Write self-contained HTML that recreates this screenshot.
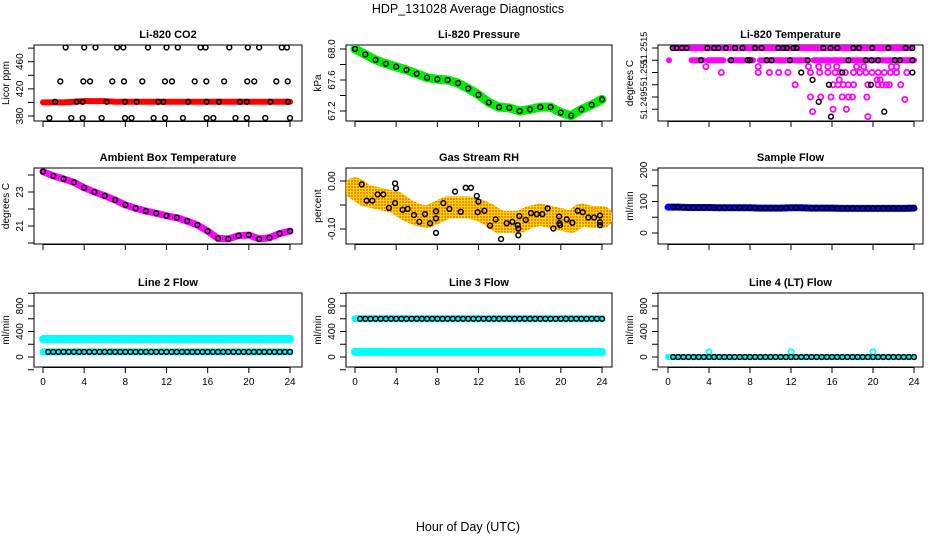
<!DOCTYPE html>
<html><head><meta charset="utf-8"><style>
html,body{margin:0;padding:0;background:#fff}
svg{display:block;font-family:"Liberation Sans",Arial,sans-serif}
</style></head><body>
<svg id="c" width="936" height="540" viewBox="0 0 936 540" xmlns="http://www.w3.org/2000/svg">
<defs><pattern id="rhpat" width="3" height="3" patternUnits="userSpaceOnUse"><rect width="3" height="3" fill="#ffd400"/><rect width="2" height="2" fill="#f08a00"/></pattern></defs>
<text x="468" y="13" text-anchor="middle" font-size="12.5">HDP_131028  Average Diagnostics</text>
<text x="468" y="531" text-anchor="middle" font-size="12.5">Hour of Day (UTC)</text>
</svg>
<script>
const hours=[0,1,2,3,4,5,6,7,8,9,10,11,12,13,14,15,16,17,18,19,20,21,22,23,24];
const xTicks=[0,4,8,12,16,20,24];
// CO2
const co2Red=[400,400,400,401,402,402,402,401,401,401,401,401,401,401,401,401,401,401,401,401,401,401,401,401,401];
const co2TopT=[2.2,4.0,5.1,7.2,7.8,10.2,12.0,13.1,15.3,15.8,18.1,19.9,21.0,23.2,23.7];
const co2MidT=[1.68,3.92,4.57,6.73,7.87,9.65,11.85,12.53,14.74,15.87,17.6,19.85,20.53,22.67,23.78];
const co2LowT=[1.17,3.27,3.85,6.19,7.97,9.1,11.2,11.7,14.1,15.9,17.1,19.14,19.8,22.1,23.8];
const co2BotT=[0.62,2.75,3.85,5.7,7.97,8.6,10.75,11.85,13.6,15.9,16.55,18.7,19.8,21.6,24];
const co2Levels=[481,431,401,377];
// Pressure
const pressure=[68.0,67.93,67.86,67.81,67.77,67.73,67.68,67.63,67.61,67.60,67.56,67.49,67.41,67.31,67.25,67.24,67.2,67.22,67.25,67.25,67.18,67.14,67.22,67.28,67.35];
// Li-820 temperature
const tempBandSegs=[[0.1,0.1],[2.3,3.45],[3.9,5.4],[6.05,8.3],[8.98,13.5],[14.2,24]];
const tempMagT=[5.2,8.8,9.9,10.8,11.7,13.9,14.8,15.6,16.3,16.8,17.3,18.1,18.7,19.3,19.9,20.5,21.1,21.7,22.3,23.3,3.7,8.8,13.7,14.7,15.6,16.45,18.4,19.1,21.8,22.3,16.7,20.4,20.7,12.4,16.1,16.6,17.1,17.6,18.1,19.5,20.5,20.9,21.3,21.6,22.7,13.9,14.9,15.9,17.0,17.6,18.0,19.4,23.1,16.1,17.4,14.1,19.5];
const tempMagV=[51.251,51.251,51.251,51.251,51.251,51.251,51.251,51.251,51.251,51.251,51.251,51.251,51.251,51.251,51.251,51.251,51.251,51.251,51.251,51.251,51.25112,51.25112,51.25112,51.25112,51.25112,51.25112,51.25112,51.25112,51.25112,51.25112,51.25085,51.25085,51.25085,51.25075,51.25075,51.25075,51.25075,51.25075,51.25075,51.25075,51.25075,51.25075,51.25075,51.25075,51.25075,51.2505,51.2505,51.2505,51.2505,51.2505,51.2505,51.2505,51.25045,51.25025,51.25025,51.2502,51.2501];
const tempBlkT=[0.46,0.85,1.34,1.82,3.84,4.49,4.91,5.66,6.54,7.28,8.49,9.14,10.76,11.25,11.58,12.23,12.55,15.15,15.87,16.52,18.08,18.63,19.93,21.5,23.19,23.84,3.22,6.15,7.77,8.0,9.63,10.11,11.9,13.63,17.6,19.3,19.87,20.5,22.14,22.63,23.84,13.0,17.0,23.84,14.1,15.7,19.8,14.7,21.1,15.9];
const tempBlkV=[51.2515,51.2515,51.2515,51.2515,51.2515,51.2515,51.2515,51.2515,51.2515,51.2515,51.2515,51.2515,51.2515,51.2515,51.2515,51.2515,51.2515,51.2515,51.2515,51.2515,51.2515,51.2515,51.2515,51.2515,51.2515,51.2515,51.25125,51.25125,51.25125,51.25125,51.25125,51.25125,51.25125,51.25125,51.25125,51.25125,51.25125,51.25125,51.25125,51.25125,51.25125,51.251,51.251,51.251,51.25085,51.25075,51.25075,51.2504,51.2502,51.2501];
const tempTickLabels=["51.2515","51.251","51.2495"];
// Ambient
const ambient=[24.2,23.95,23.77,23.57,23.25,23.0,22.78,22.53,22.24,22.04,21.88,21.75,21.6,21.49,21.29,21.06,20.7,20.27,20.24,20.43,20.47,20.24,20.31,20.56,20.7];
// Gas RH
const rhBand=[-0.015,-0.03,-0.035,-0.04,-0.045,-0.06,-0.07,-0.075,-0.065,-0.055,-0.055,-0.055,-0.06,-0.07,-0.085,-0.085,-0.085,-0.075,-0.07,-0.075,-0.08,-0.085,-0.07,-0.075,-0.075];
const rhPtT=[0.65,1.13,1.68,2.2,2.75,3.3,3.89,3.98,3.89,4.63,5.12,5.73,6.25,6.8,7.29,7.87,7.87,7.87,8.58,9.17,9.72,10.27,10.76,11.27,11.83,11.99,11.92,12.57,13.12,13.67,14.19,14.74,15.29,15.81,15.87,15.87,15.97,16.59,17.1,17.66,18.2,18.72,19.27,19.83,19.86,19.92,20.57,21.12,21.64,22.13,22.67,23.23,23.81,23.81,23.81];
const rhPtV=[-0.007,-0.041,-0.041,-0.028,-0.028,-0.056,-0.005,-0.015,-0.046,-0.06,-0.058,-0.071,-0.085,-0.069,-0.088,-0.063,-0.078,-0.108,-0.046,-0.058,-0.022,-0.064,-0.014,-0.014,-0.031,-0.043,-0.065,-0.062,-0.093,-0.08,-0.121,-0.088,-0.085,-0.092,-0.099,-0.113,-0.073,-0.081,-0.067,-0.069,-0.069,-0.057,-0.099,-0.074,-0.088,-0.092,-0.08,-0.087,-0.062,-0.065,-0.076,-0.076,-0.072,-0.086,-0.092];
// Flows
const sampleFlow=[82,82,81,81,81,80,80,80,80,79,79,79,80,80,79,79,79,78,78,78,78,78,78,78,79];
const line2High=[282,282,282,282,282,282,282,282,282,282,282,282,282,282,282,282,282,282,282,282,282,282,282,282,282];
const line2Low=[80,80,80,80,80,80,80,80,80,80,80,80,80,80,80,80,80,80,80,80,80,80,80,80,80];
const line3High=[600,600,600,600,600,600,600,600,600,600,600,600,600,600,600,600,600,600,600,600,600,600,600,600,600];
const line3Low=[80,80,80,80,80,80,80,80,80,80,80,80,80,80,80,80,80,80,80,80,80,80,80,80,80];
const line4=[0,0,0,0,0,0,0,0,0,0,0,0,0,0,0,0,0,0,0,0,0,0,0,0,0];
const line4SpikeT=[4,12,20];
const line4SpikeV=[80,80,80];

const svg=document.getElementById('c');
const NS="http://www.w3.org/2000/svg";
function mk(tag,attrs,parent){const e=document.createElementNS(NS,tag);for(const k in attrs)e.setAttribute(k,attrs[k]);(parent||svg).appendChild(e);return e;}
const cols=[{L:34,R:302,x0:43,x1:290},{L:346,R:612,x0:355,x1:602},{L:658,R:923,x0:668,x1:914}];
const rows=[{T:45,B:121},{T:168,B:244},{T:293,B:367}];

function panel(ci,ri,o){
  const c=cols[ci],r=rows[ri];
  const g=mk('g',{});
  
  
  const xs=h=>c.x0+(h/24)*(c.x1-c.x0);
  const ys=v=>o.p0+(v-o.v0)*(o.p1-o.p0)/(o.v1-o.v0);
  const t=mk('text',{x:(c.L+c.R)/2,y:r.T-7,'text-anchor':'middle','font-size':11,'font-weight':'bold'},g);
  t.textContent=o.title;
  
  
  const box=mk('rect',{x:c.L,y:r.T,width:c.R-c.L,height:r.B-r.T,fill:'none',stroke:'#000','stroke-width':1},g);
  
  
  xTicks.forEach(h=>{
    mk('line',{x1:xs(h),x2:xs(h),y1:r.B,y2:r.B+6,stroke:'#000'},g);
    if(ri===2){const tl=mk('text',{x:xs(h),y:r.B+18,'text-anchor':'middle','font-size':10},g);tl.textContent=h;
      
      }
  });
  mk('line',{x1:xs(0),x2:xs(24),y1:r.B+0.5,y2:r.B+0.5,stroke:'#000'},g);
  o.yt.forEach(v=>{const y=ys(v);mk('line',{x1:c.L-6,x2:c.L,y1:y,y2:y,stroke:'#000'},g);});
  o.yl.forEach((v,i)=>{const y=ys(v);const lx=c.L-11;
    const tl=mk('text',{x:lx,y:y,'text-anchor':'middle','font-size':o.yfs||10,transform:`rotate(-90 ${lx} ${y})`},g);
    tl.textContent=o.ylt?o.ylt[i]:v;
    
    });
  const yt=mk('text',{x:c.L-25,y:(r.T+r.B)/2,'text-anchor':'middle','font-size':10,transform:`rotate(-90 ${c.L-25} ${(r.T+r.B)/2})`},g);
  yt.textContent=o.ytitle;
  
  
  const clip='clip'+ci+ri;
  const cp=mk('clipPath',{id:clip},g);mk('rect',{x:c.L,y:r.T,width:c.R-c.L,height:r.B-r.T},cp);
  const pg=mk('g',{'clip-path':`url(#${clip})`},g);
  return {xs,ys,g:pg,
    band(vals,color,w,name){const pts=hours.map((h,i)=>xs(h)+','+ys(vals[i])).join(' ');
      const e=mk('polyline',{points:pts,fill:'none',stroke:color,'stroke-width':w,'stroke-linejoin':'round','stroke-linecap':'round'},pg);
      
      },
    circ(ts,vs,color,fill,rad,sw,name){ts.forEach((h,i)=>{const e=mk('circle',{cx:xs(h),cy:ys(vs[i]),r:rad,fill:fill,stroke:color,'stroke-width':sw},pg);
      
      });}
  };
}
const blk=(p,ts,vs)=>p.circ(ts,vs,'#000','none',2.4,1.5,'hourly-point');
const halfH=hours.slice(1).map(h=>h-0.5);

let p=panel(0,0,{name:'co2-panel',title:'Li-820 CO2',ytitle:'Licor ppm',v0:380,p0:116,v1:460,p1:61.7,yt:[380,400,420,440,460,480],yl:[380,420,460]});
p.band(co2Red,'#ff0000',6,'co2-series');
[co2TopT,co2MidT,co2LowT,co2BotT].forEach((ts,k)=>blk(p,ts,ts.map(()=>co2Levels[k])));

p=panel(1,0,{name:'pressure-panel',title:'Li-820 Pressure',ytitle:'kPa',v0:68.0,p0:49,v1:67.2,p1:111,yt:[67.2,67.4,67.6,67.8,68.0],yl:[67.2,67.6,68.0],ylt:['67.2','67.6','68.0']});
p.band(pressure,'#00ee00',9,'pressure-series');
blk(p,hours,pressure);

p=panel(2,0,{name:'li820-temperature-panel',title:'Li-820 Temperature',ytitle:'degrees C',v0:51.2515,p0:48,v1:51.2505,p1:97,yt:[51.2515,51.25125,51.251,51.25075,51.2505,51.25025],yl:[51.2515,51.251,51.25038],ylt:tempTickLabels,yfs:9});
{const e=mk('line',{x1:p.xs(0.3),x2:p.xs(24),y1:p.ys(51.2515),y2:p.ys(51.2515),stroke:'#ff00ff','stroke-width':6},p.g);
 
 }
tempBandSegs.forEach(s=>{const e=mk('line',{x1:p.xs(s[0]),x2:p.xs(s[1]),y1:p.ys(51.25125),y2:p.ys(51.25125),stroke:'#ff00ff','stroke-width':6,'stroke-linecap':'round'},p.g);
 
 });
p.circ(tempMagT,tempMagV,'#ff00ff','none',2.6,1.8,'temperature-point');
blk(p,tempBlkT,tempBlkV);

p=panel(0,1,{name:'ambient-temperature-panel',title:'Ambient Box Temperature',ytitle:'degrees C',v0:23,p0:192,v1:21,p1:226,yt:[20,21,22,23,24],yl:[21,23]});
p.band(ambient,'#ff00ff',7,'ambient-series');
blk(p,hours,ambient);

p=panel(1,1,{name:'gas-rh-panel',title:'Gas Stream RH',ytitle:'percent',v0:0,p0:181,v1:-0.1,p1:229,yt:[0,-0.05,-0.1],yl:[0,-0.1],ylt:['0.00','-0.10']});
p.band(rhBand,'url(#rhpat)',22,'rh-cloud');
blk(p,rhPtT,rhPtV);

p=panel(2,1,{name:'sample-flow-panel',title:'Sample Flow',ytitle:'ml/min',v0:0,p0:233,v1:200,p1:170,yt:[0,50,100,150,200],yl:[0,100,200]});
p.band(sampleFlow,'#0000ff',7,'sample-flow-series');
blk(p,hours.slice(1),sampleFlow.slice(1));blk(p,halfH,sampleFlow.slice(1));

const fl={v0:0,p0:357,v1:800,p1:306,yt:[-200,0,200,400,600,800,1000],yl:[0,400,800],ytitle:'ml/min'};
p=panel(0,2,Object.assign({name:'line2-flow-panel',title:'Line 2 Flow'},fl));
p.band(line2High,'#00ffff',8,'line2-high-series');
p.band(line2Low,'#00ffff',7,'line2-low-series');
blk(p,hours.slice(1),line2Low.slice(1));blk(p,halfH,line2Low.slice(1));

p=panel(1,2,Object.assign({name:'line3-flow-panel',title:'Line 3 Flow'},fl));
p.band(line3High,'#00ffff',7,'line3-high-series');
p.band(line3Low,'#00ffff',8,'line3-low-series');
blk(p,hours.slice(1),line3High.slice(1));blk(p,halfH,line3High.slice(1));

p=panel(2,2,Object.assign({name:'line4-flow-panel',title:'Line 4 (LT) Flow'},fl));
p.band(line4,'#00ffff',6,'line4-series');
p.circ(line4SpikeT,line4SpikeV,'#00ffff','none',2.6,1.8,'line4-spike');
blk(p,hours.slice(1),line4.slice(1));blk(p,halfH,line4.slice(1));
</script>
</body></html>
